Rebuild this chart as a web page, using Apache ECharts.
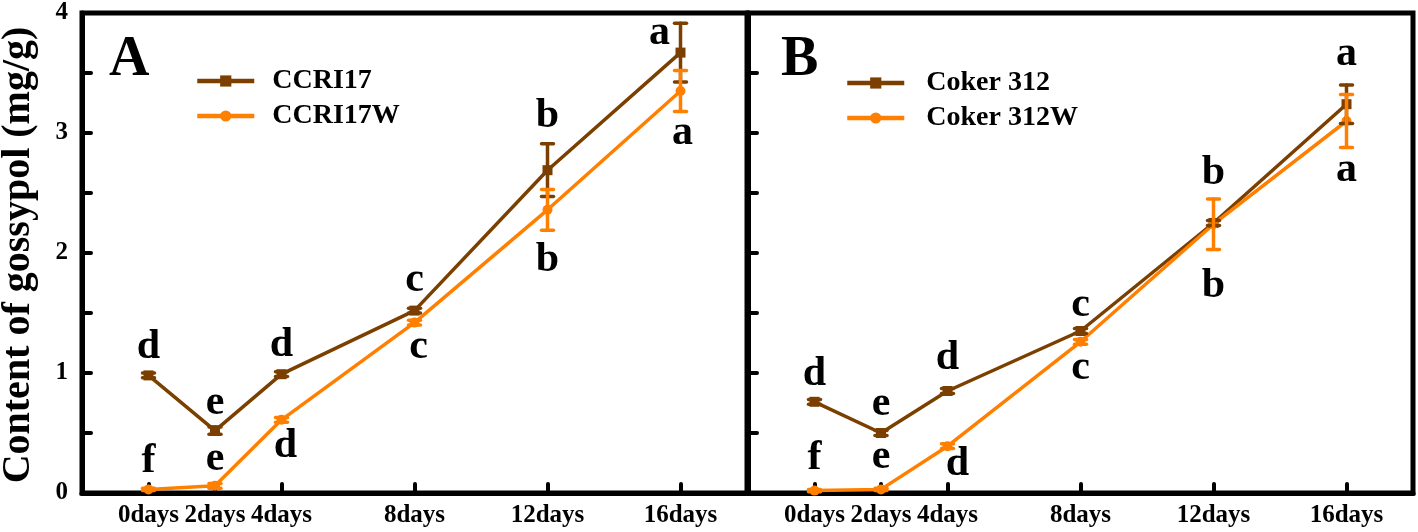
<!DOCTYPE html>
<html><head><meta charset="utf-8">
<script src="https://cdn.jsdelivr.net/npm/echarts@6/dist/echarts.min.js"></script>
<style>html,body{margin:0;padding:0;background:#fff}#c{width:1418px;height:532px}</style>
</head><body><div id="c"></div>
<script>
// ---- data ----
const days = [0, 2, 4, 8, 12, 16];
const dayLabels = ['0days', '2days', '4days', '8days', '12days', '16days'];
const yLabelValues = [0, 1, 2, 3, 4];
const yTickValues = [0.5, 1, 1.5, 2, 2.5, 3, 3.5];
const yTitle = 'Content of gossypol (mg/g)';
const panelNames = ['A', 'B'];
const namesA = ['CCRI17', 'CCRI17W'];
const namesB = ['Coker 312', 'Coker 312W'];

const ccri17      = [0.98, 0.52, 0.99, 1.52, 2.69, 3.67];
const ccri17Err   = [0.02, 0.03, 0.02, 0.02, 0.22, 0.245];
const ccri17W     = [0.03, 0.06, 0.61, 1.42, 2.36, 3.35];
const ccri17WErr  = [0.01, 0.02, 0.02, 0.02, 0.17, 0.17];
const coker312    = [0.76, 0.50, 0.85, 1.35, 2.25, 3.24];
const coker312Err = [0.02, 0.02, 0.02, 0.02, 0.02, 0.16];
const coker312W   = [0.02, 0.03, 0.39, 1.26, 2.24, 3.10];
const coker312WErr= [0.01, 0.01, 0.02, 0.02, 0.21, 0.22];

const ccri17Letters    = ['d', 'e', 'd', 'c', 'b', 'a'];
const ccri17WLetters   = ['f', 'e', 'd', 'c', 'b', 'a'];
const coker312Letters  = ['d', 'e', 'd', 'c', 'b', 'a'];
const coker312WLetters = ['f', 'e', 'd', 'c', 'b', 'a'];

// ---- style / layout ----
const FONT = 'Liberation Serif';
const BROWN = '#7b3f00', ORANGE = '#ff8000';
// letter baseline offsets from point (px)
const offA1 = [[0,-16],[0,-15],[0,-17],[0,-18],[0,-42],[-21,-7]];
const offA2 = [[0,-16],[0,-15],[4,38],[4,37],[0,62],[2,54]];
const offB1 = [[0,-16],[0,-17],[0,-21],[0,-14],[0,-38],[0,-38]];
const offB2 = [[0,-20],[0,-20],[10,30],[0,38],[0,74],[0,61]];

const chart = echarts.init(document.getElementById('c'));

function pts(v) { return days.map((d, i) => [d, v[i]]); }
function errs(v, e) { return days.map((d, i) => [d, v[i] - e[i], v[i] + e[i]]); }

function errRender(color) {
  return function (params, api) {
    const x = api.value(0), lo = api.value(1), hi = api.value(2);
    const a = api.coord([x, hi]), b = api.coord([x, lo]);
    const w = 6;
    const st = { stroke: color, lineWidth: 3.5, lineCap: 'round' };
    return { type: 'group', children: [
      { type: 'line', shape: { x1: a[0], y1: a[1], x2: b[0], y2: b[1] }, style: st },
      { type: 'line', shape: { x1: a[0] - w, y1: a[1], x2: a[0] + w, y2: a[1] }, style: st },
      { type: 'line', shape: { x1: b[0] - w, y1: b[1], x2: b[0] + w, y2: b[1] }, style: st }
    ] };
  };
}
function letterRender(letters, offs) {
  return function (params, api) {
    const i = params.dataIndex;
    const p = api.coord([api.value(0), api.value(1)]);
    const o = offs[i];
    return { type: 'text', x: p[0] + o[0], y: p[1] + o[1] - 12,
      style: { text: letters[i], font: 'bold 42px "' + FONT + '"', fill: '#000',
        textAlign: 'center', textVerticalAlign: 'middle', align: 'center', verticalAlign: 'middle' } };
  };
}

function xAxis(g) {
  return { type: 'value', gridIndex: g, min: -2, max: 18, interval: 2,
    axisLine: { show: true, onZero: false, lineStyle: { color: '#000', width: 5 } },
    axisTick: { show: true, inside: true, length: 9, customValues: days, lineStyle: { color: '#000', width: 4, cap: 'round' } },
    axisLabel: { show: true, customValues: days, margin: 10,
      formatter: v => dayLabels[days.indexOf(v)] || '',
      fontFamily: FONT, fontWeight: 'bold', fontSize: 25, color: '#000' },
    splitLine: { show: false } };
}
function yAxis(g) {
  return { type: 'value', gridIndex: g, min: 0, max: 4, interval: 0.5,
    axisLine: { show: true, onZero: false, lineStyle: { color: '#000', width: 5 } },
    axisTick: { show: true, inside: true, length: 9, customValues: yTickValues, lineStyle: { color: '#000', width: 4, cap: 'round' } },
    axisLabel: { show: g === 0, customValues: yLabelValues, margin: 14,
      fontFamily: FONT, fontWeight: 'bold', fontSize: 25, color: '#000' },
    splitLine: { show: false } };
}

function lineSeries(name, vals, g, color, symbol) {
  return { type: 'line', name, data: pts(vals), xAxisIndex: g, yAxisIndex: g,
    symbol, symbolSize: 10, showSymbol: true,
    lineStyle: { color, width: 3.5 }, itemStyle: { color }, z: 3, animation: false };
}
function errSeries(name, vals, e, g, color) {
  return { type: 'custom', name: name + '_err', data: errs(vals, e), xAxisIndex: g, yAxisIndex: g,
    renderItem: errRender(color), z: 4, animation: false, silent: true };
}
function letterSeries(name, vals, letters, offs, g) {
  return { type: 'custom', name: name + '_lbl', data: pts(vals), xAxisIndex: g, yAxisIndex: g,
    renderItem: letterRender(letters, offs), z: 5, animation: false, silent: true };
}

const legendText = { fontFamily: FONT, fontWeight: 'bold', fontSize: 28, color: '#000' };

chart.setOption({
  animation: false,
  grid: [
    { left: 82, top: 13, width: 665, height: 480, show: true, borderColor: '#000', borderWidth: 5 },
    { left: 748, top: 13, width: 665, height: 480, show: true, borderColor: '#000', borderWidth: 5 }
  ],
  xAxis: [xAxis(0), xAxis(1)],
  yAxis: [yAxis(0), yAxis(1)],
  legend: [
    { data: namesA, orient: 'vertical', left: 195, top: 67, padding: 0, itemWidth: 57, itemHeight: 14, itemGap: 7,
      lineStyle: { width: 4.5 }, selectedMode: false, textStyle: Object.assign({ padding: [0, 0, 0, 13] }, legendText) },
    { data: namesB, orient: 'vertical', left: 845, top: 69, padding: 0, itemWidth: 57, itemHeight: 14, itemGap: 7,
      lineStyle: { width: 4.5 }, selectedMode: false, textStyle: Object.assign({ padding: [0, 0, 0, 17] }, legendText) }
  ],
  graphic: [
    { type: 'text', x: 19, y: 255, rotation: Math.PI / 2,
      style: { text: yTitle, font: 'bold 40px "' + FONT + '"', fill: '#000',
        textAlign: 'center', textVerticalAlign: 'middle', align: 'center', verticalAlign: 'middle' } },
    { type: 'text', x: 109, y: 61,
      style: { text: panelNames[0], font: 'bold 56px "' + FONT + '"', fill: '#000',
        textAlign: 'left', textVerticalAlign: 'middle', align: 'left', verticalAlign: 'middle' } },
    { type: 'text', x: 781, y: 61,
      style: { text: panelNames[1], font: 'bold 56px "' + FONT + '"', fill: '#000',
        textAlign: 'left', textVerticalAlign: 'middle', align: 'left', verticalAlign: 'middle' } }
  ],
  series: [
    lineSeries(namesA[0], ccri17, 0, BROWN, 'rect'),
    errSeries(namesA[0], ccri17, ccri17Err, 0, BROWN),
    lineSeries(namesA[1], ccri17W, 0, ORANGE, 'circle'),
    errSeries(namesA[1], ccri17W, ccri17WErr, 0, ORANGE),
    letterSeries(namesA[0], ccri17, ccri17Letters, offA1, 0),
    letterSeries(namesA[1], ccri17W, ccri17WLetters, offA2, 0),
    lineSeries(namesB[0], coker312, 1, BROWN, 'rect'),
    errSeries(namesB[0], coker312, coker312Err, 1, BROWN),
    lineSeries(namesB[1], coker312W, 1, ORANGE, 'circle'),
    errSeries(namesB[1], coker312W, coker312WErr, 1, ORANGE),
    letterSeries(namesB[0], coker312, coker312Letters, offB1, 1),
    letterSeries(namesB[1], coker312W, coker312WLetters, offB2, 1)
  ]
});
</script>
</body></html>
